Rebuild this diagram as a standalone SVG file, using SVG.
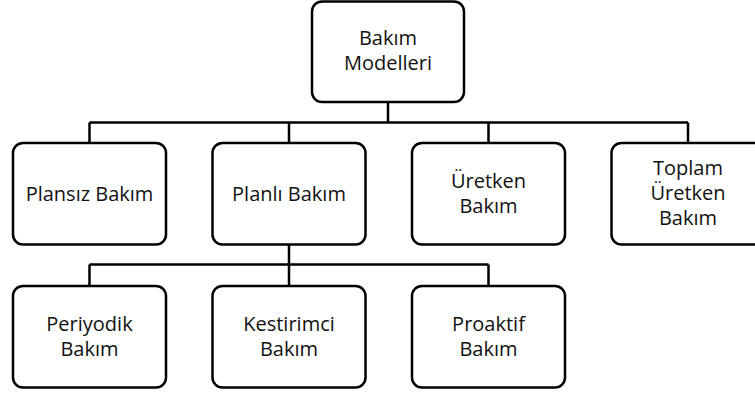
<svg xmlns="http://www.w3.org/2000/svg" width="755" height="394" viewBox="0 0 755 394">
<style>
.box{fill:#fff;stroke:#000;stroke-width:2.5}
.lbl{font-family:"Open Sans","Liberation Sans",sans-serif;font-size:20px;fill:#111;text-anchor:middle}
.conn{fill:none;stroke:#000;stroke-width:2.5}
</style>
<rect width="755" height="394" fill="#fff"/>
<g id="connectors">
<path class="conn" d="M388,102 V122.5 M89.5,122.5 H688 M89.5,122.5 V143 M289,122.5 V143 M488.5,122.5 V143 M688,122.5 V143"/>
<path class="conn" d="M289,244.5 V264.5 M89.5,264.5 H488.5 M89.5,264.5 V286 M289,264.5 V286 M488.5,264.5 V286"/>
</g>
<g id="n-bakim-modelleri">
<rect class="box" x="312" y="1.5" width="152" height="100.5" rx="10"/>
<text class="lbl" x="388" y="45">Bakım</text>
<text class="lbl" x="388" y="70">Modelleri</text>
</g>
<g id="n-plansiz">
<rect class="box" x="13" y="143" width="153" height="101.5" rx="10"/>
<text class="lbl" x="89.5" y="201">Plansız Bakım</text>
</g>
<g id="n-planli">
<rect class="box" x="212.5" y="143" width="153" height="101.5" rx="10"/>
<text class="lbl" x="289" y="201">Planlı Bakım</text>
</g>
<g id="n-uretken">
<rect class="box" x="412" y="143" width="153" height="101.5" rx="10"/>
<text class="lbl" x="488.5" y="188">Üretken</text>
<text class="lbl" x="488.5" y="213">Bakım</text>
</g>
<g id="n-toplam">
<rect class="box" x="611.5" y="143" width="153" height="101.5" rx="10"/>
<text class="lbl" x="688" y="175">Toplam</text>
<text class="lbl" x="688" y="200">Üretken</text>
<text class="lbl" x="688" y="225">Bakım</text>
</g>
<g id="n-periyodik">
<rect class="box" x="13" y="286" width="153" height="101.5" rx="10"/>
<text class="lbl" x="89.5" y="331">Periyodik</text>
<text class="lbl" x="89.5" y="356">Bakım</text>
</g>
<g id="n-kestirimci">
<rect class="box" x="212.5" y="286" width="153" height="101.5" rx="10"/>
<text class="lbl" x="289" y="331">Kestirimci</text>
<text class="lbl" x="289" y="356">Bakım</text>
</g>
<g id="n-proaktif">
<rect class="box" x="412" y="286" width="153" height="101.5" rx="10"/>
<text class="lbl" x="488.5" y="331">Proaktif</text>
<text class="lbl" x="488.5" y="356">Bakım</text>
</g>
</svg>
